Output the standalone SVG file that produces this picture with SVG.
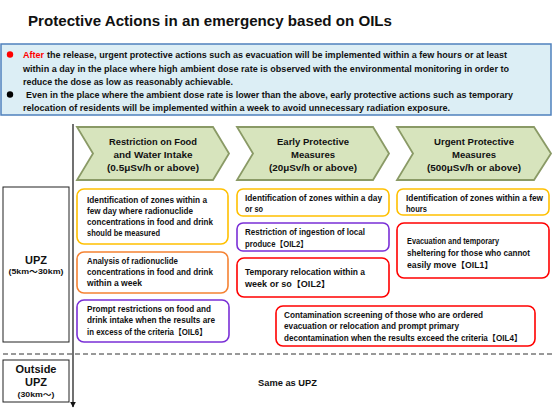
<svg xmlns="http://www.w3.org/2000/svg" width="554" height="417" viewBox="0 0 554 417">
<style>
text{font-family:"Liberation Sans",Arial,"Noto Sans CJK JP",sans-serif;font-weight:bold;fill:#111;}
.info{font-size:9.6px;}
.chev{fill:#D7E4BD;stroke:#8A9A66;stroke-width:1.8;}
.chevt{font-size:9.4px;text-anchor:middle;}
.bx{fill:#fff;stroke-width:1.6;}
.y{stroke:#FFC000;}
.o{stroke:#F58232;}
.p{stroke:#7A2FD6;}
.r{stroke:#FF0000;}
.bt{font-size:8.4px;}
.zone{fill:#fff;stroke:#222;stroke-width:1;}
</style>
<defs>
<marker id="ah" viewBox="0 0 10 10" refX="9" refY="5" markerWidth="6" markerHeight="6" orient="auto" markerUnits="userSpaceOnUse">
<path d="M0,0 L10,5 L0,10 Z" fill="#111"/>
</marker>
</defs>
<rect width="554" height="417" fill="#fff"/>

<g id="title">
<text x="28" y="26" font-size="15.5" textLength="364" lengthAdjust="spacingAndGlyphs">Protective Actions in an emergency based on OILs</text>
</g>

<g id="info">
<rect x="1" y="44" width="550" height="71" fill="#DCEEF5" stroke="#4F81BD" stroke-width="1.5"/>
<circle cx="10" cy="54.5" r="3.2" fill="#FF0000"/>
<circle cx="10" cy="94.5" r="3.2" fill="#000"/>
<text class="info" x="23" y="58" textLength="21" lengthAdjust="spacingAndGlyphs" style="fill:#FF0000">After</text>
<text class="info" x="47" y="58" textLength="460" lengthAdjust="spacingAndGlyphs">the release, urgent protective actions such as evacuation will be implemented within a few hours or at least</text>
<text class="info" x="23" y="71.5" textLength="486" lengthAdjust="spacingAndGlyphs">within a day in the place where high ambient dose rate is observed with the environmental monitoring in order to</text>
<text class="info" x="23" y="84.5" textLength="210" lengthAdjust="spacingAndGlyphs">reduce the dose as low as reasonably achievable.</text>
<text class="info" x="26" y="98" textLength="487" lengthAdjust="spacingAndGlyphs">Even in the place where the ambient dose rate is lower than the above, early protective actions such as temporary</text>
<text class="info" x="23" y="111" textLength="427" lengthAdjust="spacingAndGlyphs">relocation of residents will be implemented within a week to avoid unnecessary radiation exposure.</text>
</g>

<g id="connectors">
<line x1="73" y1="124" x2="73" y2="407" stroke="#111" stroke-width="1.2" marker-end="url(#ah)"/>
<line x1="3" y1="354" x2="554" y2="354" stroke="#333" stroke-width="1" stroke-dasharray="5,3"/>
</g>

<g id="chevron-food">
<path class="chev" d="M77,127 L213,127 L229,153.5 L213,180 L77,180 L93,153.5 Z"/>
<text class="chevt" x="153" y="145" textLength="88" lengthAdjust="spacingAndGlyphs">Restriction on Food</text>
<text class="chevt" x="153" y="158" textLength="79" lengthAdjust="spacingAndGlyphs">and Water Intake</text>
<text class="chevt" x="153" y="171" textLength="92" lengthAdjust="spacingAndGlyphs">(0.5μSv/h or above)</text>
</g>
<g id="chevron-early">
<path class="chev" d="M237,127 L373,127 L389,153.5 L373,180 L237,180 L253,153.5 Z"/>
<text class="chevt" x="313" y="145" textLength="72" lengthAdjust="spacingAndGlyphs">Early Protective</text>
<text class="chevt" x="313" y="158" textLength="44" lengthAdjust="spacingAndGlyphs">Measures</text>
<text class="chevt" x="313" y="171" textLength="88" lengthAdjust="spacingAndGlyphs">(20μSv/h or above)</text>
</g>
<g id="chevron-urgent">
<path class="chev" d="M397,127 L534,127 L551,153.5 L534,180 L397,180 L413,153.5 Z"/>
<text class="chevt" x="474" y="145" textLength="80" lengthAdjust="spacingAndGlyphs">Urgent Protective</text>
<text class="chevt" x="474" y="158" textLength="44" lengthAdjust="spacingAndGlyphs">Measures</text>
<text class="chevt" x="474" y="171" textLength="94" lengthAdjust="spacingAndGlyphs">(500μSv/h or above)</text>
</g>

<g id="zone-upz">
<rect class="zone" x="3" y="187" width="66" height="155"/>
<text x="36" y="264" font-size="11" text-anchor="middle" textLength="22" lengthAdjust="spacingAndGlyphs">UPZ</text>
<text x="36" y="274" font-size="7.5" text-anchor="middle" textLength="55" lengthAdjust="spacingAndGlyphs">(5km～30km)</text>
</g>
<g id="zone-outside">
<rect class="zone" x="3" y="360" width="66" height="42"/>
<text x="36" y="373" font-size="11" text-anchor="middle" textLength="41" lengthAdjust="spacingAndGlyphs">Outside</text>
<text x="36" y="386" font-size="11" text-anchor="middle" textLength="22" lengthAdjust="spacingAndGlyphs">UPZ</text>
<text x="36" y="396.5" font-size="7" text-anchor="middle" textLength="37" lengthAdjust="spacingAndGlyphs">(30km～)</text>
</g>

<g id="box-food-identify">
<rect class="bx y" x="77" y="189" width="151" height="55" rx="7"/>
<text class="bt" x="87" y="203" textLength="120" lengthAdjust="spacingAndGlyphs">Identification of zones within a</text>
<text class="bt" x="87" y="214" textLength="106" lengthAdjust="spacingAndGlyphs">few day where radionuclide</text>
<text class="bt" x="87" y="225" textLength="126" lengthAdjust="spacingAndGlyphs">concentrations in food and drink</text>
<text class="bt" x="87" y="236" textLength="73" lengthAdjust="spacingAndGlyphs">should be measured</text>
</g>
<g id="box-food-analysis">
<rect class="bx o" x="77" y="252" width="151" height="41" rx="7"/>
<text class="bt" x="87" y="264" textLength="91" lengthAdjust="spacingAndGlyphs">Analysis of radionuclide</text>
<text class="bt" x="87" y="275" textLength="126" lengthAdjust="spacingAndGlyphs">concentrations in food and drink</text>
<text class="bt" x="87" y="286" textLength="55" lengthAdjust="spacingAndGlyphs">within a week</text>
</g>
<g id="box-food-restrict">
<rect class="bx p" x="77" y="300" width="152" height="42" rx="7"/>
<text class="bt" x="87" y="312" textLength="124" lengthAdjust="spacingAndGlyphs">Prompt restrictions on food and</text>
<text class="bt" x="87" y="323" textLength="128" lengthAdjust="spacingAndGlyphs">drink intake when the results are</text>
<text class="bt" x="87" y="335" textLength="120" lengthAdjust="spacingAndGlyphs">in excess of the criteria【OIL6】</text>
</g>

<g id="box-early-identify">
<rect class="bx y" x="237" y="189" width="152" height="27" rx="6"/>
<text class="bt" x="245" y="200.5" textLength="137" lengthAdjust="spacingAndGlyphs">Identification of zones within a day</text>
<text class="bt" x="245" y="212" textLength="18" lengthAdjust="spacingAndGlyphs">or so</text>
</g>
<g id="box-early-ingestion">
<rect class="bx p" x="237" y="223" width="152" height="28" rx="6"/>
<text class="bt" x="245" y="235" textLength="120" lengthAdjust="spacingAndGlyphs">Restriction of ingestion of local</text>
<text class="bt" x="245" y="247" textLength="63" lengthAdjust="spacingAndGlyphs">produce【OIL2】</text>
</g>
<g id="box-early-relocation">
<rect class="bx r" x="237" y="258" width="152" height="39" rx="7"/>
<text class="bt" x="245" y="275" textLength="120" lengthAdjust="spacingAndGlyphs">Temporary relocation within  a</text>
<text class="bt" x="245" y="287" textLength="85" lengthAdjust="spacingAndGlyphs">week or so【OIL2】</text>
</g>

<g id="box-urgent-identify">
<rect class="bx y" x="397" y="189" width="152" height="26" rx="6"/>
<text class="bt" x="406" y="200.5" textLength="137" lengthAdjust="spacingAndGlyphs">Identification of zones within a few</text>
<text class="bt" x="406" y="211.5" textLength="21" lengthAdjust="spacingAndGlyphs">hours</text>
</g>
<g id="box-urgent-evacuation">
<rect class="bx r" x="397" y="223" width="152" height="55" rx="7"/>
<text class="bt" x="407" y="244" textLength="92" lengthAdjust="spacingAndGlyphs">Evacuation and temporary</text>
<text class="bt" x="407" y="256" textLength="123" lengthAdjust="spacingAndGlyphs">sheltering for those who cannot</text>
<text class="bt" x="407" y="267.5" textLength="86" lengthAdjust="spacingAndGlyphs">easily move【OIL1】</text>
</g>

<g id="box-contamination">
<rect class="bx r" x="276" y="306" width="259" height="40" rx="7"/>
<text class="bt" x="284" y="318" textLength="199" lengthAdjust="spacingAndGlyphs">Contamination screening of those who are ordered</text>
<text class="bt" x="284" y="329" textLength="175" lengthAdjust="spacingAndGlyphs">evacuation or relocation and prompt primary</text>
<text class="bt" x="284" y="340.5" textLength="238" lengthAdjust="spacingAndGlyphs">decontamination  when the results exceed the criteria【OIL4】</text>
</g>

<g id="same-as-upz">
<text x="287.5" y="386" font-size="9.5" text-anchor="middle" textLength="59" lengthAdjust="spacingAndGlyphs">Same as UPZ</text>
</g>
</svg>
